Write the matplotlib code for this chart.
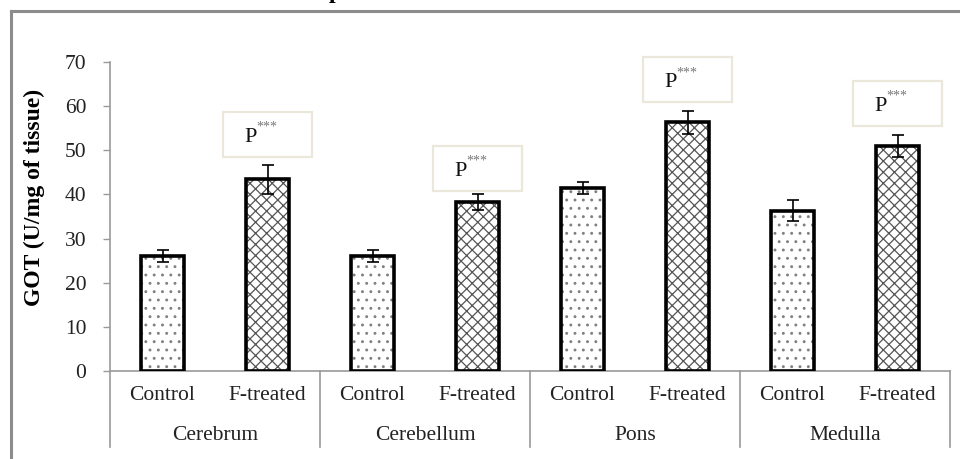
import numpy as np
import matplotlib
matplotlib.use("Agg")
import matplotlib.pyplot as plt
from matplotlib.patches import Rectangle
from matplotlib.lines import Line2D

plt.rcParams["font.family"] = ["Liberation Serif", "DejaVu Serif"]
plt.rcParams["hatch.linewidth"] = 0.9

# GOT activity, mean and SE per brain region
REGIONS = ["Cerebrum", "Cerebellum", "Pons", "Medulla"]
GROUPS = ["Control", "F-treated"]
control_mean = [26.0, 26.0, 41.4, 36.3]
control_err = [1.3, 1.3, 1.4, 2.4]
treated_mean = [43.4, 38.2, 56.4, 51.0]
treated_err = [3.2, 1.8, 2.6, 2.5]
SIG_LABEL = "***"
label_gap = [1.9, 0.8, 1.9, 2.0]

W, H, DPI = 960, 459, 100
fig = plt.figure(figsize=(W / DPI, H / DPI), dpi=DPI)

# outer frame (top and left edges visible)
fx, fy = 11 / W, 1 - 11 / H
fig.add_artist(Line2D([fx, fx], [0, fy], transform=fig.transFigure, color="#8c8c8c", lw=2.2))
fig.add_artist(Line2D([fx, 1], [fy, fy], transform=fig.transFigure, color="#8c8c8c", lw=2.2))
fig.text(0.5, 1 + 2 / H, "pons and medulla of rat brain", ha="center", va="baseline",
         fontsize=17, fontweight="bold")

ax_l, ax_r, ax_b, ax_t = 110, 950, 371, 62
ax = fig.add_axes([ax_l / W, (H - ax_b) / H, (ax_r - ax_l) / W, (ax_b - ax_t) / H])
ax.set_xlim(0, 8)
ax.set_ylim(0, 70)
ax.set_yticks(np.arange(0, 71, 10))
ax.tick_params(axis="y", length=5, width=1, color="#9a9a9a", pad=12,
               labelsize=15.5, labelcolor="#222222")
ax.set_xticks([])
for s in ["top", "right"]:
    ax.spines[s].set_visible(False)
for s in ["left", "bottom"]:
    ax.spines[s].set_color("#9a9a9a")
    ax.spines[s].set_linewidth(1.2)

ax.set_ylabel("GOT (U/mg of tissue)", fontsize=17, fontweight="bold")
ax.yaxis.set_label_coords(-(ax_l - 45) / (ax_r - ax_l), (ax_b - 197) / (ax_b - ax_t))

bw = 0.41
xs_c = np.arange(len(REGIONS)) * 2 + 0.5
xs_t = xs_c + 1.0

# hatch fill first (grey lines), then the black outline on top
ax.bar(xs_c, control_mean, bw, color="white", edgecolor="#808080", hatch="..", lw=0, zorder=2)
ax.bar(xs_t, treated_mean, bw, color="white", edgecolor="#555555", hatch="xxx", lw=0, zorder=2)
ax.bar(xs_c, control_mean, bw, fill=False, edgecolor="black", lw=2.6, zorder=3)
ax.bar(xs_t, treated_mean, bw, fill=False, edgecolor="black", lw=2.6, zorder=3)
ax.errorbar(xs_c, control_mean, yerr=control_err, fmt="none", ecolor="black",
            elinewidth=1.2, capsize=4.5, capthick=1.2, zorder=4)
ax.errorbar(xs_t, treated_mean, yerr=treated_err, fmt="none", ecolor="black",
            elinewidth=1.2, capsize=4.5, capthick=1.2, zorder=4)

# significance boxes above treated bars
px = ax.bbox.height / 70  # pixels per data unit
for x, m, e, g in zip(xs_t, treated_mean, treated_err, label_gap):
    bottom = m + e + g
    bx = x - 0.42
    ax.add_patch(Rectangle((bx, bottom), 0.84, 45 / px, facecolor="white",
                           edgecolor="#ebe7da", lw=1.6, zorder=5, clip_on=False))
    ax.annotate("P", (bx, bottom), xytext=(21 * 0.72, 15 * 0.72), textcoords="offset points",
                ha="left", va="baseline", fontsize=16, color="#111111", zorder=6,
                annotation_clip=False)
    ax.annotate(SIG_LABEL, (bx, bottom), xytext=(33 * 0.72, 36 * 0.72),
                textcoords="offset points", ha="left", va="top", fontsize=10,
                color="#777777", zorder=6, annotation_clip=False)

# two-level category axis
xt = ax.get_xaxis_transform()
ah = ax_b - ax_t
for i, region in enumerate(REGIONS):
    for j, grp in enumerate(GROUPS):
        ax.text(2 * i + j + 0.5, -24 / ah, grp, transform=xt, ha="center", va="center",
                fontsize=15.5, color="#222222")
    ax.text(2 * i + 1, -64 / ah, region, transform=xt, ha="center", va="center",
            fontsize=15.5, color="#222222")
for xd in range(0, 9, 2):
    ax.plot([xd, xd], [0, -76 / ah], transform=xt, color="#9a9a9a", lw=1.2, clip_on=False)

fig.savefig("out.png", dpi=DPI)
